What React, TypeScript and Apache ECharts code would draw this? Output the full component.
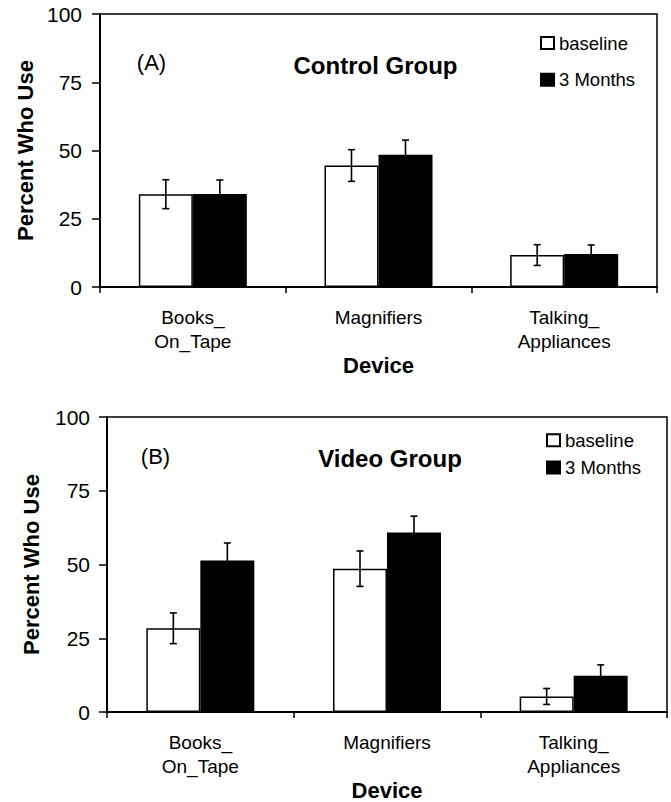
import React, { useEffect, useRef } from "react";
import * as echarts from "echarts";

const categories = ["Books_\nOn_Tape", "Magnifiers", "Talking_\nAppliances"];
const yTicks = [0, 25, 50, 75, 100];

const controlBaseline = [34.0, 44.5, 11.7];
const controlBaselineErr = [5.3, 5.8, 3.8];
const control3m = [34.1, 48.4, 12.1];
const control3mErr = [5.1, 5.4, 3.3];

const videoBaseline = [28.4, 48.6, 5.3];
const videoBaselineErr = [5.2, 6.0, 2.7];
const video3m = [51.4, 60.9, 12.3];
const video3mErr = [5.9, 5.5, 3.7];

const FONT = "'Liberation Sans', Arial, sans-serif";
const BAR_W = 54;

function errSeries(name: string, idx: number, vals: number[], errs: number[], offset: number) {
  return {
    type: "custom",
    name,
    xAxisIndex: idx,
    yAxisIndex: idx,
    z: 5,
    data: vals.map((v, i) => [i, v, errs[i]]),
    renderItem: (_p: any, api: any) => {
      const ci = api.value(0);
      const v = api.value(1);
      const e = api.value(2);
      const t = api.coord([ci, v + e]);
      const b = api.coord([ci, v - e]);
      const x = t[0] + offset;
      const cap = 3.5;
      const st = { stroke: "#000", lineWidth: 1.6 };
      return {
        type: "group",
        children: [
          { type: "line", shape: { x1: x, y1: t[1], x2: x, y2: b[1] }, style: st },
          { type: "line", shape: { x1: x - cap, y1: t[1], x2: x + cap, y2: t[1] }, style: st },
          { type: "line", shape: { x1: x - cap, y1: b[1], x2: x + cap, y2: b[1] }, style: st },
        ],
      };
    },
  };
}

function xAxisCfg(idx: number, nameGap: number) {
  return {
    type: "category",
    gridIndex: idx,
    data: categories,
    boundaryGap: true,
    name: "Device",
    nameLocation: "middle",
    nameGap,
    nameTextStyle: { fontFamily: FONT, fontSize: 22, fontWeight: "bold", color: "#000" },
    axisLine: { lineStyle: { color: "#000", width: 2 } },
    axisTick: { show: true, length: 6, lineStyle: { color: "#000", width: 1.5 } },
    axisLabel: {
      interval: 0,
      margin: 19,
      fontFamily: FONT,
      fontSize: 19,
      lineHeight: 23.5,
      color: "#000",
    },
    splitLine: { show: false },
  };
}

function yAxisCfg(idx: number, nameGap: number, margin: number) {
  return {
    type: "value",
    gridIndex: idx,
    min: yTicks[0],
    max: yTicks[yTicks.length - 1],
    interval: yTicks[1] - yTicks[0],
    name: "Percent Who Use",
    nameLocation: "middle",
    nameGap,
    nameTextStyle: { fontFamily: FONT, fontSize: 22, fontWeight: "bold", color: "#000" },
    axisLine: { show: true, lineStyle: { color: "#000", width: 2 } },
    axisTick: { show: true, length: 8, lineStyle: { color: "#000", width: 1.5 } },
    axisLabel: { margin, fontFamily: FONT, fontSize: 21, color: "#000" },
    splitLine: { show: false },
  };
}

function barSeries(name: string, idx: number, data: number[], dark: boolean) {
  return {
    type: "bar",
    name,
    xAxisIndex: idx,
    yAxisIndex: idx,
    data,
    barWidth: BAR_W,
    barGap: "0%",
    itemStyle: {
      color: dark ? "#000" : "#fff",
      borderColor: "#000",
      borderWidth: 1.5,
    },
  };
}

function legendCfg(left: number, top: number, itemGap: number) {
  return {
    orient: "vertical",
    left,
    top,
    padding: 0,
    itemGap,
    itemWidth: 13,
    itemHeight: 12,
    icon: "rect",
    data: ["baseline", "3 Months"],
    selectedMode: false,
    textStyle: { fontFamily: FONT, fontSize: 18.5, color: "#000", padding: [0, 0, 0, 0] },
  };
}

function txt(text: string, x: number, y: number, size: number, bold: boolean) {
  return {
    type: "text",
    x,
    y,
    style: {
      text,
      textAlign: "center",
      textVerticalAlign: "middle",
      font: `${bold ? "bold " : ""}${size}px ${FONT}`,
      fill: "#000",
    },
  };
}

export default function App() {
  const ref = useRef<HTMLDivElement>(null);
  useEffect(() => {
    document.body.style.margin = "0";
    const chart = echarts.init(ref.current!, null, { renderer: "svg" });
    chart.setOption({
      animation: false,
      backgroundColor: "#fff",
      grid: [
        { left: 100, top: 14, width: 557, height: 273, show: true, borderColor: "#000", borderWidth: 1.5, backgroundColor: "transparent" },
        { left: 107, top: 417, width: 560, height: 302, show: true, borderColor: "#000", borderWidth: 1.5, backgroundColor: "transparent" },
      ],
      xAxis: [xAxisCfg(0, 67), xAxisCfg(1, 63)],
      yAxis: [yAxisCfg(0, 64, 18), yAxisCfg(1, 65, 17)],
      legend: [legendCfg(540, 33.5, 17.8), legendCfg(546, 430.8, 8.2)],
      graphic: [
        txt("(A)", 151.5, 62.5, 22, false),
        txt("Control Group", 375.5, 65, 24, true),
        txt("(B)", 155.5, 456, 22, false),
        txt("Video Group", 390, 458, 24, true),
      ],
      series: [
        barSeries("baseline", 0, controlBaseline, false),
        barSeries("3 Months", 0, control3m, true),
        errSeries("err-c-b", 0, controlBaseline, controlBaselineErr, -BAR_W / 2),
        errSeries("err-c-3", 0, control3m, control3mErr, BAR_W / 2),
        barSeries("baseline", 1, videoBaseline, false),
        barSeries("3 Months", 1, video3m, true),
        errSeries("err-v-b", 1, videoBaseline, videoBaselineErr, -BAR_W / 2),
        errSeries("err-v-3", 1, video3m, video3mErr, BAR_W / 2),
      ],
    });
    return () => chart.dispose();
  }, []);
  return <div ref={ref} style={{ width: 671, height: 802 }} />;
}
